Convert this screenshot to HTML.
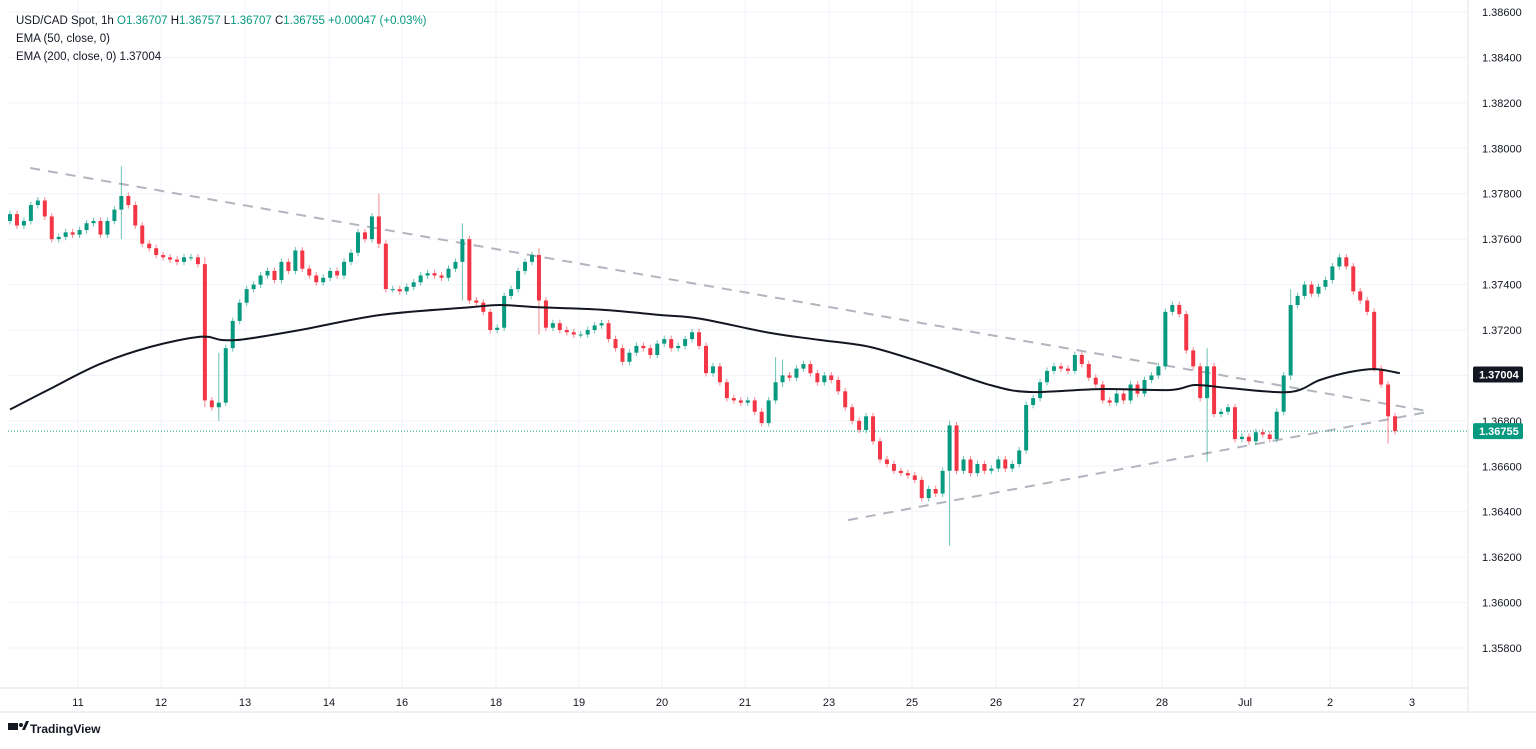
<!DOCTYPE html>
<html><head><meta charset="utf-8"><style>
body{margin:0;background:#fff;font-family:"Liberation Sans",sans-serif}
svg text{font-family:"Liberation Sans",sans-serif}
</style></head><body>
<svg id="chart" width="1536" height="744" viewBox="0 0 1536 744" xmlns="http://www.w3.org/2000/svg">
<rect width="1536" height="744" fill="#fff"/>
<g id="grid"></g>
<g id="trend"></g>
<g id="candles"></g>
<g id="ema"></g>
<g id="axes"></g>
<g font-size="11.5" fill="#131722">
<text x="16" y="24">USD/CAD Spot, 1h  <tspan fill="#089981">O</tspan><tspan fill="#089981">1.36707</tspan>  H<tspan fill="#089981">1.36757</tspan>  L<tspan fill="#089981">1.36707</tspan>  C<tspan fill="#089981">1.36755</tspan>  <tspan fill="#089981">+0.00047 (+0.03%)</tspan></text>
<text x="16" y="42">EMA (50, close, 0)</text>
<text x="16" y="60">EMA (200, close, 0)  1.37004</text>
</g>
<g>
<rect x="8" y="723" width="10" height="7" fill="#131722"/><circle cx="21" cy="725" r="2" fill="#131722"/><path d="M22 730 L26 721 L29 721 L25 730Z" fill="#131722"/>
<text x="30" y="733" font-size="12" font-weight="bold" fill="#131722">TradingView</text>
</g>
</svg>
<script>
const closes=[171,166,168,175,177,170,160,161,163,162,164,167,168,162,168,173,179,175,166,158,156,153,152,151,150,152,152,149,89,86,88,112,124,132,138,140,144,146,142,150,146,155,147,144,141,143,146,144,150,154,163,160,170,158,138,138,137,139,141,144,145,144,143,147,150,160,133,132,128,120,121,135,138,146,150,153,133,121,123,120,119,118,118,120,122,123,116,112,106,110,113,112,109,114,116,112,113,116,119,113,101,104,97,90,89,88,89,84,79,89,97,100,99,103,105,101,97,100,98,93,86,80,76,82,71,63,61,58,57,56,54,46,50,48,58,78,58,63,57,61,58,59,63,59,61,67,87,90,97,102,104,103,102,109,105,99,96,89,88,92,89,96,92,98,100,104,128,131,127,111,104,90,104,83,84,86,72,73,71,75,74,72,84,100,131,135,140,136,139,142,148,152,148,137,133,128,103,96,82,75.5];
const firstOpen=168;
const spikeIdx=[16,28,30,53,65,76,110,111,135,172,184,198];
const spikeHi=[192,152,110,180,167,156,108,107,80,112,138,80];
const spikeLo=[160,86,80,156,133,118,95,95,25,62,98,70];
const emaIdx=[0,5.7,12.9,20.1,27.3,30.5,33.8,41.7,53.2,66.1,70.4,76.1,84.8,93.4,99.1,109.2,116.4,123.6,132.2,140.8,146.6,156.6,166.7,170.3,175.3,183.9,188.2,192.5,196.1,199.7];
const emaVals=[85,94,105,112.5,117,115.6,116,120,126.6,130,131,130,129,126.6,125,118.7,115.6,112.5,104.6,95.8,92.7,94,93.6,95.8,94.4,92.7,98,101.5,102.8,101];
const upperLine=[[2.9,191.3],[203.7,84.3]];
const lowerLine=[[120.4,36.3],[203.7,83.9]];
const priceTicks=[1.386,1.384,1.382,1.380,1.378,1.376,1.374,1.372,1.370,1.368,1.366,1.364,1.362,1.360,1.358];
const dayLabels=["11","12","13","14","16","18","19","20","21","23","25","26","27","28","Jul","2","3"];
const dayX=[78,161,245,329,402,496,579,662,745,829,912,996,1079,1162,1245,1330,1412];
const lastPrice=1.36755, emaLast=1.37004;

const NS="http://www.w3.org/2000/svg";
const xs=i=>10+i*6.96;
const yp=p=>12+(1.386-p)*22714;
const yv=v=>yp(1.36+v/10000);
function mk(tag,attrs,parent){const e=document.createElementNS(NS,tag);for(const k in attrs)e.setAttribute(k,attrs[k]);parent.appendChild(e);return e;}
const grid=document.getElementById('grid'),axes=document.getElementById('axes'),cg=document.getElementById('candles');
priceTicks.forEach(p=>{const y=yp(p);
 const l=mk('line',{x1:8,x2:1468,y1:y,y2:y,stroke:'#f0f3fa'},grid);
 
 
 const t=mk('text',{x:1482,y:y+4,'font-size':11,fill:'#131722'},axes);t.textContent=p.toFixed(5);
 
 
});
dayX.forEach((x,k)=>{
 const l=mk('line',{x1:x,x2:x,y1:0,y2:688,stroke:'#f0f3fa'},grid);
 
 
 const t=mk('text',{x:x,y:706,'font-size':11,fill:'#131722','text-anchor':'middle'},axes);t.textContent=dayLabels[k];
 
 
});
mk('line',{x1:0,x2:1468,y1:688,y2:688,stroke:'#e0e3eb'},axes);
mk('line',{x1:0,x2:1536,y1:712,y2:712,stroke:'#e0e3eb'},axes);
mk('line',{x1:1468,x2:1468,y1:0,y2:712,stroke:'#e0e3eb'},axes);
const tg=document.getElementById('trend');
[upperLine,lowerLine].forEach(L=>{const l=mk('line',{x1:xs(L[0][0]),y1:yv(L[0][1]),x2:xs(L[1][0]),y2:yv(L[1][1]),stroke:'#b2b5be','stroke-width':2,'stroke-dasharray':'10 8'},tg);
 
 });
const ly=yp(lastPrice);
mk('line',{x1:8,x2:1468,y1:ly,y2:ly,stroke:'#089981','stroke-dasharray':'1 2'},tg);
let prev=firstOpen;
closes.forEach((c,i)=>{const o=prev;prev=c;
 let hi=Math.max(o,c)+1.5,lo=Math.min(o,c)-1.5;
 const s=spikeIdx.indexOf(i);if(s>=0){hi=Math.max(hi,spikeHi[s]);lo=Math.min(lo,spikeLo[s]);}
 const up=c>=o,col=up?'#089981':'#f23645',x=xs(i);
 const g=mk('g',{},cg);
 
 
 mk('line',{x1:x,x2:x,y1:yv(hi),y2:yv(lo),stroke:col,'stroke-opacity':0.6,'stroke-width':1},g);
 const yt=yv(Math.max(o,c)),yb=yv(Math.min(o,c));
 mk('rect',{x:x-2,y:yt,width:4,height:Math.max(1,yb-yt),fill:col},g);
});
// smooth ema via catmull-rom
const P=emaIdx.map((ix,k)=>[xs(ix),yv(emaVals[k])]);
let d='M'+P[0][0].toFixed(1)+' '+P[0][1].toFixed(1);
for(let k=0;k<P.length-1;k++){const p0=P[Math.max(0,k-1)],p1=P[k],p2=P[k+1],p3=P[Math.min(P.length-1,k+2)];
 const c1=[p1[0]+(p2[0]-p0[0])/6,p1[1]+(p2[1]-p0[1])/6],c2=[p2[0]-(p3[0]-p1[0])/6,p2[1]-(p3[1]-p1[1])/6];
 d+=`C${c1[0].toFixed(1)} ${c1[1].toFixed(1)} ${c2[0].toFixed(1)} ${c2[1].toFixed(1)} ${p2[0].toFixed(1)} ${p2[1].toFixed(1)}`;}
const ep=mk('path',{d:d,fill:'none',stroke:'#131722','stroke-width':2,'stroke-linejoin':'round'},document.getElementById('ema'));


function box(p,bg,name){const y=yp(p);const g=mk('g',{},axes);
 
 
 mk('rect',{x:1473,y:y-8,width:50,height:16,rx:2,fill:bg},g);
 const t=mk('text',{x:1479,y:y+4,'font-size':11,fill:'#fff','font-weight':'bold'},g);t.textContent=p.toFixed(5);}
box(emaLast,'#131722','ema-price-label');
box(lastPrice,'#089981','last-price-label');
</script>
</body></html>
